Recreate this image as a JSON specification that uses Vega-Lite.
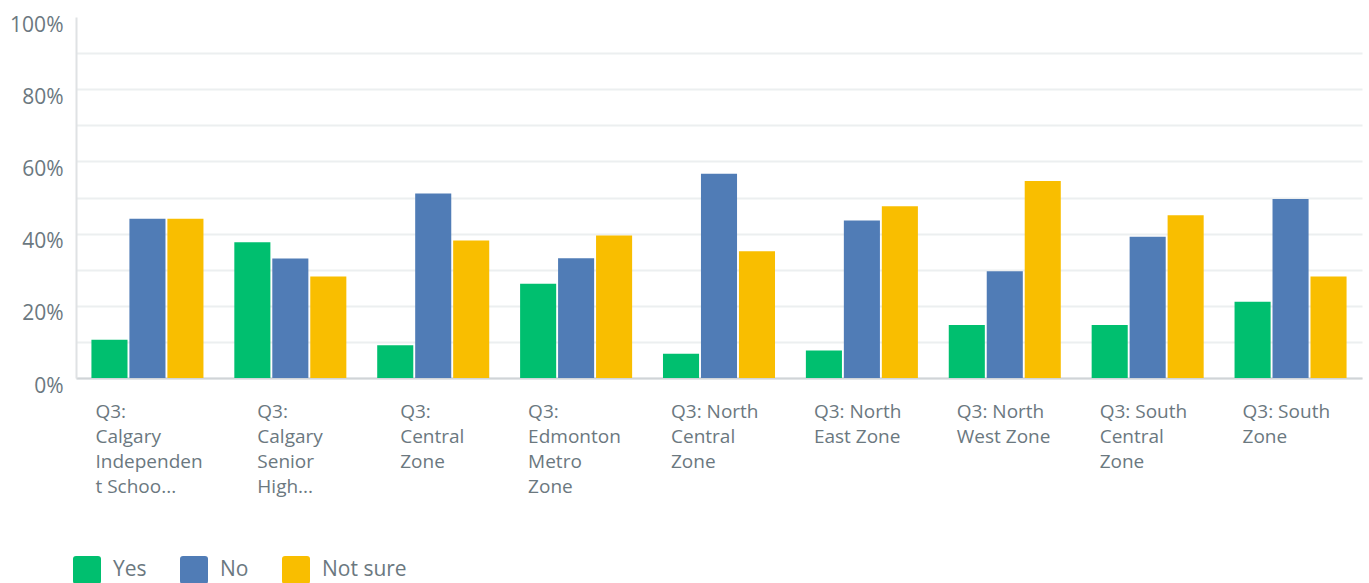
{
  "$schema": "https://vega.github.io/schema/vega-lite/v6.json",
  "width": 1286,
  "height": 361,
  "autosize": {"type": "none"},
  "padding": {"left": 76, "top": 17, "right": 7, "bottom": 205},
  "background": "#ffffff",
  "config": {
    "view": {"stroke": null},
    "font": "Open Sans"
  },
  "data": {
    "values": [
      {"zone": "Q3:|Calgary|Independen|t Schoo...", "answer": "Yes", "pct": 0.106},
      {"zone": "Q3:|Calgary|Independen|t Schoo...", "answer": "No", "pct": 0.441},
      {"zone": "Q3:|Calgary|Independen|t Schoo...", "answer": "Not sure", "pct": 0.441},
      {"zone": "Q3:|Calgary|Senior|High...", "answer": "Yes", "pct": 0.376},
      {"zone": "Q3:|Calgary|Senior|High...", "answer": "No", "pct": 0.331},
      {"zone": "Q3:|Calgary|Senior|High...", "answer": "Not sure", "pct": 0.281},
      {"zone": "Q3:|Central|Zone", "answer": "Yes", "pct": 0.091},
      {"zone": "Q3:|Central|Zone", "answer": "No", "pct": 0.511},
      {"zone": "Q3:|Central|Zone", "answer": "Not sure", "pct": 0.381},
      {"zone": "Q3:|Edmonton|Metro|Zone", "answer": "Yes", "pct": 0.261},
      {"zone": "Q3:|Edmonton|Metro|Zone", "answer": "No", "pct": 0.332},
      {"zone": "Q3:|Edmonton|Metro|Zone", "answer": "Not sure", "pct": 0.395},
      {"zone": "Q3: North|Central|Zone", "answer": "Yes", "pct": 0.067},
      {"zone": "Q3: North|Central|Zone", "answer": "No", "pct": 0.566},
      {"zone": "Q3: North|Central|Zone", "answer": "Not sure", "pct": 0.351},
      {"zone": "Q3: North|East Zone", "answer": "Yes", "pct": 0.076},
      {"zone": "Q3: North|East Zone", "answer": "No", "pct": 0.436},
      {"zone": "Q3: North|East Zone", "answer": "Not sure", "pct": 0.476},
      {"zone": "Q3: North|West Zone", "answer": "Yes", "pct": 0.147},
      {"zone": "Q3: North|West Zone", "answer": "No", "pct": 0.296},
      {"zone": "Q3: North|West Zone", "answer": "Not sure", "pct": 0.546},
      {"zone": "Q3: South|Central|Zone", "answer": "Yes", "pct": 0.147},
      {"zone": "Q3: South|Central|Zone", "answer": "No", "pct": 0.391},
      {"zone": "Q3: South|Central|Zone", "answer": "Not sure", "pct": 0.451},
      {"zone": "Q3: South|Zone", "answer": "Yes", "pct": 0.211},
      {"zone": "Q3: South|Zone", "answer": "No", "pct": 0.496},
      {"zone": "Q3: South|Zone", "answer": "Not sure", "pct": 0.281}
    ]
  },
  "mark": {"type": "bar"},
  "encoding": {
    "x": {
      "field": "zone",
      "type": "nominal",
      "sort": null,
      "scale": {"paddingInner": 0.216, "paddingOuter": 0.108},
      "axis": {
        "title": null,
        "labelAngle": 0,
        "labelExpr": "split(datum.label, '|')",
        "labelAlign": "left",
        "labelBaseline": "top",
        "labelFontSize": 19,
        "labelLineHeight": 25,
        "labelColor": "#6b787f",
        "labelPadding": 24,
        "labelOffset": {
          "condition": [
            {"test": "indexof(['Q3:|Calgary|Senior|High...','Q3:|Central|Zone'], datum.value) >= 0", "value": -33},
            {"test": "datum.value === 'Q3:|Calgary|Independen|t Schoo...'", "value": -52}
          ],
          "value": -48
        },
        "labelOverlap": false,
        "labelLimit": 0,
        "ticks": false,
        "domainColor": "#d0d4d7",
        "domainWidth": 2,
        "grid": false
      }
    },
    "xOffset": {
      "field": "answer",
      "type": "nominal",
      "sort": ["Yes", "No", "Not sure"],
      "scale": {"paddingInner": 0.05}
    },
    "y": {
      "field": "pct",
      "type": "quantitative",
      "scale": {"domain": [0, 1], "nice": false},
      "axis": {
        "title": null,
        "values": [0, 0.1, 0.2, 0.3, 0.4, 0.5, 0.6, 0.7, 0.8, 0.9, 1],
        "labelExpr": "round(datum.value * 10) % 2 == 1 ? '' : format(datum.value, '.0%')",
        "labelFontSize": 21,
        "labelColor": "#6b787f",
        "labelPadding": 13,
        "labelOffset": 8,
        "ticks": false,
        "domainColor": "#dfe2e4",
        "domainWidth": 2,
        "gridColor": {"condition": {"test": "datum.value >= 1", "value": "transparent"}, "value": "#eceff0"},
        "gridWidth": 2
      }
    },
    "color": {
      "field": "answer",
      "type": "nominal",
      "sort": ["Yes", "No", "Not sure"],
      "scale": {"domain": ["Yes", "No", "Not sure"], "range": ["#00bf6f", "#507cb6", "#f9be00"]},
      "legend": {
        "title": null,
        "orient": "none",
        "direction": "horizontal",
        "legendX": -3,
        "legendY": 539,
        "padding": 0,
        "symbolType": "M-0.78,-1L0.78,-1Q1,-1,1,-0.78L1,0.78Q1,1,0.78,1L-0.78,1Q-1,1,-1,0.78L-1,-0.78Q-1,-1,-0.78,-1Z",
        "symbolSize": 784,
        "symbolStrokeWidth": 0,
        "symbolOpacity": 1,
        "labelFontSize": 21,
        "labelColor": "#6b787f",
        "labelOffset": 12,
        "columnPadding": 33
      }
    }
  }
}
